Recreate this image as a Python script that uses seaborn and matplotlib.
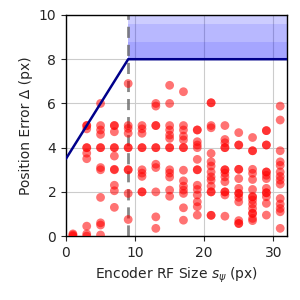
import numpy as np
import pandas as pd
import matplotlib
matplotlib.use("Agg")
import matplotlib.pyplot as plt
import seaborn as sns

# position errors read per encoder RF size (px)
err_rf1 = [0.0, 0.05, 0.1]
err_rf3 = [5.0, 5.0, 4.85, 4.0, 4.0, 3.75, 3.5, 0.45, 0.1, 0.0]
err_rf5 = [6.0, 5.0, 4.8, 4.6, 4.0, 4.0, 3.1, 3.0, 1.75, 0.6, 0.5, 0.05]
err_rf7 = [5.0, 5.0, 4.72, 4.0, 4.0, 3.62, 3.02, 3.0, 2.3, 2.05, 1.3]
err_rf9 = [6.9, 5.0, 4.87, 4.65, 4.0, 4.0, 3.0, 3.0, 1.93, 0.75]
err_rf11 = [5.0, 4.85, 4.65, 4.0, 4.0, 3.0, 2.85, 2.7, 2.0, 2.0]
err_rf13 = [6.0, 5.88, 5.0, 5.0, 4.0, 4.0, 3.25, 3.1, 2.0, 0.87, 0.35]
err_rf15 = [6.82, 6.0, 5.0, 4.8, 4.57, 4.42, 4.0, 4.0, 3.0, 2.85, 2.67, 2.08, 1.8]
err_rf17 = [6.53, 5.0, 4.8, 4.52, 4.35, 4.0, 4.0, 2.98, 2.5, 2.26, 2.08, 1.93, 1.28, 0.72]
err_rf19 = [4.8, 4.8, 4.27, 4.12, 4.0, 3.47, 3.0, 3.0, 2.3, 2.11, 1.86, 1.55, 1.33, 0.95]
err_rf21 = [6.03, 6.03, 5.0, 4.9, 3.74, 3.36, 3.17, 2.9, 2.68, 2.53, 2.26, 2.0, 2.0, 0.94, 0.94]
err_rf23 = [5.0, 4.37, 4.22, 4.0, 4.0, 3.0, 3.0, 2.85, 2.68, 2.46, 2.0, 2.0, 1.86, 0.9]
err_rf25 = [4.68, 4.12, 4.12, 3.02, 3.02, 2.6, 2.16, 1.93, 1.93, 1.75, 1.55, 0.7, 0.57, 0.57]
err_rf27 = [4.46, 3.86, 3.86, 3.02, 2.84, 2.56, 2.11, 1.78, 1.78, 1.63, 1.45, 1.25, 1.03, 1.03, 0.8, 0.7]
err_rf29 = [4.77, 4.77, 4.12, 4.12, 2.9, 2.9, 2.75, 2.6, 2.16, 1.96, 1.96, 1.78, 1.48, 0.95]
err_rf31 = [5.88, 5.25, 3.86, 3.36, 3.2, 2.9, 2.7, 2.53, 2.35, 1.7, 1.45, 1.25, 1.1, 0.35]

rf_sizes = [1, 3, 5, 7, 9, 11, 13, 15, 17, 19, 21, 23, 25, 27, 29, 31]
errors = [err_rf1, err_rf3, err_rf5, err_rf7, err_rf9, err_rf11, err_rf13, err_rf15,
          err_rf17, err_rf19, err_rf21, err_rf23, err_rf25, err_rf27, err_rf29, err_rf31]

# bound curve and the critical RF size
bound_x = [0, 9, 32]
bound_y = [3.5, 8, 8]
rf_crit = 9
band_tops = [8.8, 9.6, 10.4, 11.2]

rows = []
for s, errs in zip(rf_sizes, errors):
    for e in errs:
        rows.append({"rf": s, "err": e})
df = pd.DataFrame(rows)

sns.set_style("ticks")
plt.rcParams['font.family'] = ['DejaVu Sans']

fig, ax = plt.subplots(figsize=(3, 3), dpi=100)
fig.subplots_adjust(left=0.22, right=0.957, top=0.95, bottom=0.213)

ax.grid(True, color="#cccccc", linewidth=0.8)
ax.set_axisbelow(True)

# shaded forbidden region above the bound
for top in band_tops:
    ax.fill_between([rf_crit, 32], bound_y[1], top, color="blue", alpha=0.1, linewidth=0)

sns.scatterplot(data=df, x="rf", y="err", color="red", alpha=0.55, s=40,
                edgecolor="none", ax=ax, zorder=3)

ax.plot(bound_x, bound_y, color="darkblue", linewidth=1.8, zorder=4)
ax.axvline(rf_crit, color="dimgray", linestyle="--", linewidth=2, alpha=0.8,
           dashes=(4, 2.5), zorder=2)

ax.set_xlim(0, 32)
ax.set_ylim(0, 10)
ax.set_xticks([0, 10, 20, 30])
ax.set_yticks([0, 2, 4, 6, 8, 10])
ax.set_xlabel(r"Encoder RF Size $s_\psi$ (px)", fontsize=10)
ax.set_ylabel("Position Error Δ (px)", fontsize=10)
ax.tick_params(labelsize=10)
for sp in ax.spines.values():
    sp.set_color("black")
    sp.set_linewidth(1)

fig.savefig("out.png", dpi=100)
